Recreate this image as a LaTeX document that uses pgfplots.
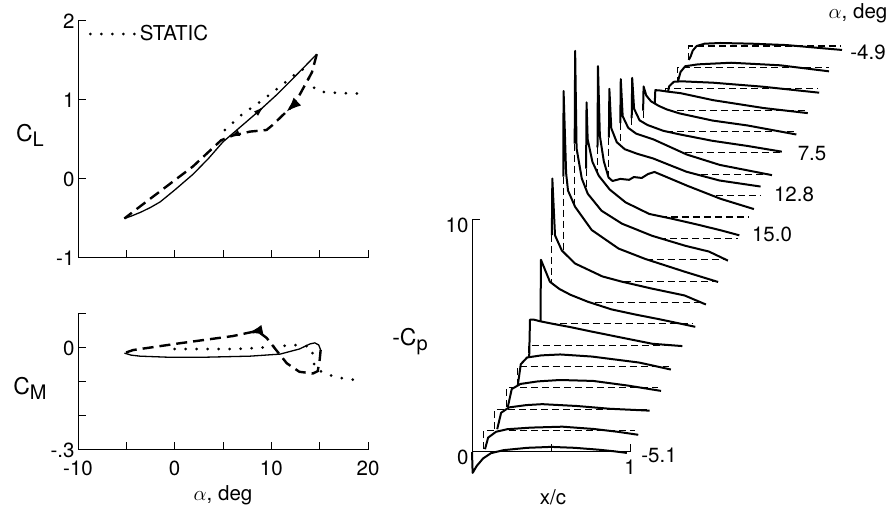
\documentclass[border=0pt]{standalone}
\usepackage{fontspec}
\setmainfont{TeX Gyre Heros}
\usepackage{pgfplots}
\pgfplotsset{compat=1.18}
\usetikzlibrary{decorations.markings,arrows.meta}
\pgfplotsset{
  wf/.style={x filter/.expression={x+0.0722*#1}, y filter/.expression={y+0.921*#1}},
  cpsolid/.style={black, line width=2pt, line join=round},
  cpdash/.style={black, line width=1.1pt, dash pattern=on 7pt off 4pt},
  lsolid/.style={black, line width=1.3pt},
  ldash/.style={black, line width=2.4pt, dash pattern=on 11pt off 6pt},
  ldot/.style={black, line width=3pt, line cap=round, dash pattern=on 0pt off 11pt},
  myax/.style={axis x line*=bottom, axis y line*=left, axis line style={black, line width=1pt},
    tick style={black, line width=1pt}, tick align=inside, major tick length=8pt,
    tick label style={font=\fontsize{20.5}{22}\selectfont}, clip=false, anchor=south west},
}
\newcommand\wcurve[3]{%
  \addplot[wf=#1, fill=white, draw=none] coordinates {#2} \closedcycle;
  \addplot[wf=#1, cpdash] coordinates {(0,#3) (0,0) (0.96,0)};
  \addplot[wf=#1, cpsolid] coordinates {#2};
}
\begin{document}
\begin{tikzpicture}
\useasboundingbox (0,0) rectangle (892pt,510pt);
% ---------------- C_L -----------------
\begin{axis}[myax, at={(78pt,252pt)}, x=9.667pt, y=79pt,
  xmin=-10, xmax=20, ymin=-1, ymax=2,
  xtick={-5,0,5,10,15,20}, xticklabels={},
  ytick={-1,0,1,2}, yticklabels={-1,0,1,2},
  legend style={at={(axis cs:-8.9,1.835)}, anchor=west, draw=none, fill=none, inner sep=0pt,
    font=\fontsize{20.5}{22}\selectfont},
  legend image code/.code={\draw[#1] (0pt,0pt) -- (46pt,0pt);}]
\addplot[ldot] coordinates {(5.2,0.62) (7,0.82) (9,0.99) (11,1.18) (12.5,1.33) (13.2,1.39) (13.7,1.33) (14.1,1.2) (14.6,1.13) (15.5,1.1) (17,1.09) (19,1.08)};
\addlegendentry{STATIC}
\addplot[lsolid, postaction={decorate}, decoration={markings, mark=at position 0.71 with {\arrow{Latex[length=11pt,width=6pt]}}}]
  coordinates {(-5.2,-0.5) (-4.5,-0.47) (-3.5,-0.42) (-2.5,-0.36) (-1.5,-0.29) (0,-0.14) (1.9,0.06) (3.5,0.26) (5,0.47) (7,0.68) (8.8,0.87) (10.5,1.06) (11.9,1.23) (13.5,1.43) (14.7,1.58)};
\addplot[ldash, postaction={decorate}, decoration={markings,
   mark=at position 0.25 with {\arrow[solid]{Latex[length=15pt,width=11pt]}},
   mark=at position 0.49 with {\arrow[solid]{Latex[length=9pt,width=7pt]}}}]
  coordinates {(14.7,1.58) (14.2,1.35) (12.9,1.06) (11.9,0.89) (11.2,0.81) (10.1,0.68) (9.5,0.62) (7.8,0.6) (6,0.55) (4.8,0.49) (1.9,0.16) (-1.55,-0.16) (-3.5,-0.34) (-5.2,-0.5)};
\end{axis}
% ---------------- C_M -----------------
\begin{axis}[myax, at={(78pt,60pt)}, x=9.667pt, y=340pt,
  xmin=-10, xmax=20, ymin=-0.3, ymax=0.1,
  xtick={-10,-5,0,5,10,15,20}, xticklabels={-10,,0,,10,,20},
  xticklabel style={yshift=-7pt},
  ytick={-0.3,-0.2,-0.1,0,0.1}, yticklabels={-.3,,,0,}]
\addplot[ldot] coordinates {(0,-0.003) (3,-0.003) (6,-0.003) (8.5,0.0) (11,0.006) (12.9,0.009) (14.1,0.003) (14.3,-0.02) (14.4,-0.045) (14.6,-0.062) (16,-0.08) (17.5,-0.09) (19.3,-0.096)};
\addplot[lsolid] coordinates {(-5.2,-0.015) (-4.5,-0.021) (-3.6,-0.024) (-0.8,-0.027) (3.3,-0.027) (7.8,-0.024) (10.9,-0.018) (12.9,-0.003) (14,0.012) (14.5,0.015) (14.9,0.009) (15.1,-0.006)};
\addplot[ldash, postaction={decorate}, decoration={markings,
   mark=at position 0.465 with {\arrow[solid]{Latex[length=15pt,width=10pt]}}}]
  coordinates {(15.1,-0.006) (15.0,-0.035) (14.8,-0.068) (14.3,-0.075) (12.9,-0.07) (11.6,-0.045) (10.5,-0.006) (9.5,0.03) (8.8,0.045) (8,0.047) (6,0.035) (0.8,0.015) (-4.3,-0.006) (-5.2,-0.015)};
\end{axis}
% ---------------- Cp waterfall -----------------
\begin{axis}[myax, at={(472pt,58pt)}, x=158pt, y=23.2pt, axis on top,
  xmin=0, xmax=1, ymin=0, ymax=10,
  xtick={0.5,1}, xticklabels={,1}, xticklabel style={yshift=-4pt},
  ytick={0,10}, yticklabels={0,10}, yticklabel style={yshift=-5pt}]
\wcurve{19}{(0,-0.6) (0.012,-0.45) (0.025,-0.2) (0.05,0.0) (0.1,0.1) (0.2,0.13) (0.4,0.1) (0.62,0.04) (0.97,-0.17)}{-0.6}
\wcurve{18}{(0,-0.7) (0.02,-0.2) (0.05,0.05) (0.13,0.13) (0.34,0.2) (0.65,0.09) (0.96,-0.17)}{-0.7}
\wcurve{17}{(0,-0.6) (0.02,0.1) (0.05,0.3) (0.1,0.32) (0.3,0.26) (0.61,0.09) (0.97,-0.17)}{-0.6}
\wcurve{16}{(0,0.0) (0.005,0.86) (0.03,0.85) (0.08,0.8) (0.165,0.73) (0.37,0.43) (0.69,0.09) (0.97,-0.13)}{0}
\wcurve{15}{(0,0.9) (0.003,1.94) (0.02,1.55) (0.05,1.3) (0.1,1.1) (0.15,0.95) (0.23,0.78) (0.44,0.47) (0.66,0.26) (0.97,-0.13)}{0.9}
\wcurve{14}{(0,1.5) (0.003,3.23) (0.015,1.9) (0.05,1.4) (0.1,1.2) (0.2,0.95) (0.3,0.8) (0.51,0.52) (0.73,0.3) (0.95,0.05)}{1.5}
\wcurve{13}{(0,2.2) (0.003,4.1) (0.015,2.5) (0.05,2.0) (0.1,1.75) (0.21,1.5) (0.42,0.85) (0.63,0.4) (0.96,-0.04)}{2.2}
\wcurve{12}{(0,2.5) (0.003,4.6) (0.015,2.9) (0.05,2.3) (0.1,2.0) (0.18,1.8) (0.28,1.6) (0.49,1.03) (0.7,0.65) (0.96,0.39)}{2.5}
\wcurve{11}{(0,3.0) (0.003,6.5) (0.015,3.5) (0.04,2.4) (0.07,1.7) (0.095,1.55) (0.145,1.64) (0.2,1.6) (0.23,1.72) (0.28,1.68) (0.32,1.85) (0.36,1.94) (0.42,1.77) (0.57,1.34) (0.78,0.78) (0.99,0.34)}{3.0}
\wcurve{10}{(0,3.0) (0.003,5.86) (0.01,4.27) (0.04,3.3) (0.08,2.7) (0.15,2.1) (0.25,1.55) (0.4,1.05) (0.54,0.85) (0.7,0.6) (0.85,0.35) (0.97,0.13)}{3.0}
\wcurve{9}{(0,5.0) (0.003,9.0) (0.012,4.8) (0.045,3.5) (0.083,2.84) (0.17,2.11) (0.3,1.55) (0.49,1.03) (0.7,0.6) (0.85,0.35) (0.97,-0.04)}{5.0}
\wcurve{8}{(0,4.5) (0.002,8.19) (0.018,4.66) (0.03,3.9) (0.075,3.2) (0.18,2.2) (0.35,1.4) (0.52,0.95) (0.77,0.4) (0.98,-0.04)}{4.5}
\wcurve{7}{(0,2.9) (0.003,5.34) (0.02,2.89) (0.063,2.24) (0.146,1.68) (0.32,1.12) (0.44,0.9) (0.63,0.6) (0.84,0.3) (0.975,-0.09)}{2.9}
\wcurve{6}{(0,-0.6) (0.003,2.76) (0.06,1.81) (0.12,1.5) (0.19,1.25) (0.3,0.95) (0.45,0.62) (0.6,0.4) (0.75,0.2) (0.98,-0.13)}{-0.6}
\wcurve{5}{(0,-0.8) (0.006,1.1) (0.03,1.1) (0.07,1.03) (0.15,0.92) (0.26,0.78) (0.4,0.58) (0.575,0.34) (0.78,0.06) (0.97,-0.04)}{-0.8}
\wcurve{4}{(0,-0.86) (0.02,0.1) (0.06,0.39) (0.15,0.48) (0.27,0.52) (0.47,0.43) (0.77,0.17) (0.97,-0.13)}{-0.86}
\wcurve{3}{(0.01,-0.82) (0.035,-0.05) (0.09,0.17) (0.2,0.28) (0.34,0.34) (0.55,0.3) (0.77,0.1) (0.98,-0.13)}{-0.82}
\wcurve{2}{(0.015,-0.86) (0.04,-0.15) (0.09,0.08) (0.2,0.18) (0.3,0.22) (0.52,0.14) (0.73,0.02) (0.98,-0.06)}{-0.86}
\wcurve{1}{(0.01,-0.8) (0.03,-0.3) (0.08,-0.05) (0.15,0.06) (0.3,0.13) (0.5,0.17) (0.7,0.07) (0.85,-0.05) (0.98,-0.18)}{-0.8}
\addplot[cpsolid] coordinates {(0,0) (0.004,-0.9) (0.03,-0.6) (0.07,-0.28) (0.12,-0.05) (0.2,0.08) (0.35,0.18) (0.5,0.22) (0.65,0.18) (0.8,0.1) (0.9,0.03) (0.98,-0.04)};
\end{axis}
% ---------------- text -----------------
\begin{scope}[every node/.style={font=\fontsize{20.5}{22}\selectfont, inner sep=0pt}]
\node at (30pt,375pt) {\fontsize{23}{23}\selectfont C\raisebox{-5pt}{\fontsize{20}{20}\selectfont L}};
\node at (30pt,122pt) {\fontsize{23}{23}\selectfont C\raisebox{-5pt}{\fontsize{20}{20}\selectfont M}};
\node at (223pt,15pt) {$\alpha$, deg};
\node at (410pt,168pt) {\fontsize{23}{23}\selectfont -C\raisebox{-5pt}{\fontsize{20}{20}\selectfont p}};
\node at (553pt,13pt) {x/c};
\node at (858pt,497pt) {$\alpha$, deg};
\node at (868pt,458pt) {-4.9};
\node at (812pt,356pt) {7.5};
\node at (794pt,316pt) {12.8};
\node at (772pt,276pt) {15.0};
\node at (659pt,55pt) {-5.1};
\end{scope}
\end{tikzpicture}
\end{document}
